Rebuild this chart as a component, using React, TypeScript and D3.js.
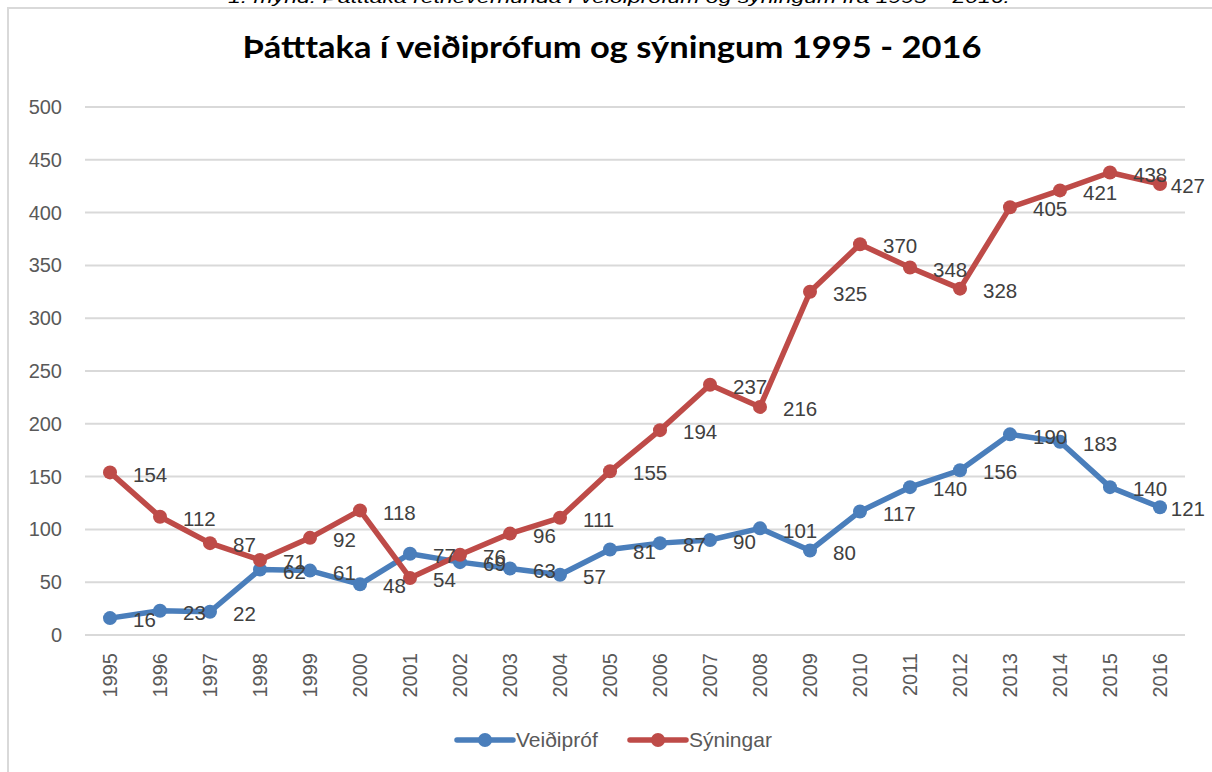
import React from "react";
import * as d3 from "d3";

// Þátttaka í veiðiprófum og sýningum 1995 - 2016
const years = [
  "1995", "1996", "1997", "1998", "1999", "2000", "2001", "2002", "2003", "2004", "2005",
  "2006", "2007", "2008", "2009", "2010", "2011", "2012", "2013", "2014", "2015", "2016",
];
const veidiprof = [16, 23, 22, 62, 61, 48, 77, 69, 63, 57, 81, 87, 90, 101, 80, 117, 140, 156, 190, 183, 140, 121];
const syningar = [154, 112, 87, 71, 92, 118, 54, 76, 96, 111, 155, 194, 237, 216, 325, 370, 348, 328, 405, 421, 438, 427];
const yTicks = [0, 50, 100, 150, 200, 250, 300, 350, 400, 450, 500];

const seriesList = [
  { name: "Veiðipróf", values: veidiprof, color: "#4A7EBB" },
  { name: "Sýningar", values: syningar, color: "#BE4B48" },
];

const W = 1212;
const H = 772;
const numFont = "'Liberation Sans', Arial, sans-serif";

const App = () => {
  const x = d3.scaleBand<string>().domain(years).range([85, 1185]);
  const y = d3.scaleLinear().domain([0, 500]).range([635, 107]);
  const cx = (yr: string) => (x(yr) as number) + x.bandwidth() / 2;

  const line = d3
    .line<number>()
    .x((_, i) => cx(years[i]))
    .y(d => y(d));

  const labelRight = 1205;

  return (
    <svg
      width={W}
      height={H}
      style={{ position: "absolute", left: 0, top: 0, background: "#fff" }}
    >
      {/* caption cut at top of the image */}
      <text
        x={228}
        y={3}
        fontFamily={numFont}
        fontStyle="italic"
        fontSize={17}
        fill="#000"
        textLength={782}
        lengthAdjust="spacingAndGlyphs"
      >
        1. mynd: Þátttaka retrieverhunda í veiðiprófum og sýningum frá 1995 – 2016.
      </text>

      {/* chart frame */}
      <rect x={8} y={8} width={1400} height={900} fill="#fff" stroke="#d9d9d9" strokeWidth={2} />

      <text
        x={612}
        y={58}
        textAnchor="middle"
        fontFamily="Lato, 'Open Sans', sans-serif"
        fontWeight="bold"
        fontSize={31}
        fill="#000"
        textLength={739}
        lengthAdjust="spacingAndGlyphs"
      >
        Þátttaka í veiðiprófum og sýningum 1995 - 2016
      </text>

      {/* grid + y axis */}
      {yTicks.map(t => (
        <g key={t}>
          <line x1={85} x2={1185} y1={y(t)} y2={y(t)} stroke="#d9d9d9" strokeWidth={2} />
          <text
            x={62}
            y={y(t)}
            dy="0.35em"
            textAnchor="end"
            fontFamily={numFont}
            fontSize={20}
            fill="#595959"
          >
            {t}
          </text>
        </g>
      ))}

      {/* x axis labels */}
      {years.map(yr => (
        <text
          key={yr}
          transform={`translate(${cx(yr)},653) rotate(-90)`}
          dy="0.35em"
          textAnchor="end"
          fontFamily={numFont}
          fontSize={20}
          fill="#595959"
        >
          {yr}
        </text>
      ))}

      {/* series */}
      {seriesList.map(s => (
        <g key={s.name}>
          <path d={line(s.values) || ""} fill="none" stroke={s.color} strokeWidth={5.5} strokeLinejoin="round" />
          {s.values.map((v, i) => (
            <circle key={i} cx={cx(years[i])} cy={y(v)} r={7} fill={s.color} />
          ))}
        </g>
      ))}

      {/* data labels, right of each point */}
      {seriesList.map(s => (
        <g key={s.name + "-labels"}>
          {s.values.map((v, i) => {
            const lx = cx(years[i]) + 23;
            const w = String(v).length * 11.5;
            const overflow = lx + w > labelRight;
            return (
              <text
                key={i}
                x={overflow ? labelRight : lx}
                y={y(v) + 2}
                dy="0.35em"
                textAnchor={overflow ? "end" : "start"}
                fontFamily={numFont}
                fontSize={20.5}
                fill="#404040"
              >
                {v}
              </text>
            );
          })}
        </g>
      ))}

      {/* legend */}
      {seriesList.map((s, i) => {
        const x0 = i === 0 ? 457 : 630;
        return (
          <g key={s.name + "-legend"}>
            <line x1={x0} x2={x0 + 56} y1={740} y2={740} stroke={s.color} strokeWidth={5.5} strokeLinecap="round" />
            <circle cx={x0 + 28} cy={740} r={7} fill={s.color} />
            <text x={x0 + 59} y={740} dy="0.35em" fontFamily={numFont} fontSize={21} fill="#595959">
              {s.name}
            </text>
          </g>
        );
      })}
    </svg>
  );
};

export default App;
